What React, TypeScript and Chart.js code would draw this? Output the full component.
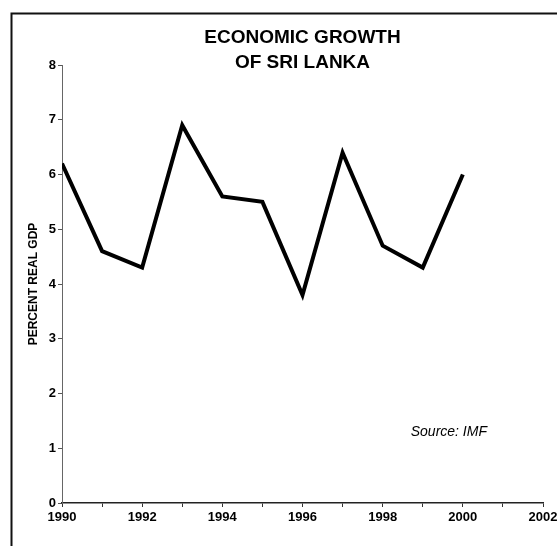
import React, { useEffect, useRef } from "react";
import { Chart, registerables } from "chart.js";

Chart.register(...registerables);

// Real GDP growth, percent per year
const years = [1990, 1991, 1992, 1993, 1994, 1995, 1996, 1997, 1998, 1999, 2000];
const growth = [6.2, 4.6, 4.3, 6.9, 5.6, 5.5, 3.8, 6.4, 4.7, 4.3, 6.0];

const titleLines = ["ECONOMIC GROWTH", "OF SRI LANKA"];
const yAxisTitle = "PERCENT REAL GDP";
const sourceNote = "Source: IMF";
const xRange = [1990, 2002];
const yRange = [0, 8];

const FONT = "'Liberation Sans', Arial, Helvetica, sans-serif";

const decorPlugin = {
  id: "decor",
  beforeDraw(chart: any) {
    const { ctx, width, height } = chart;
    ctx.save();
    ctx.fillStyle = "#ffffff";
    ctx.fillRect(0, 0, width, height);
    // frame lines along the top and left edges
    ctx.strokeStyle = "#111";
    ctx.lineWidth = 2;
    ctx.beginPath();
    ctx.moveTo(11.5, height);
    ctx.lineTo(11.5, 13.5);
    ctx.lineTo(width, 13.5);
    ctx.stroke();
    ctx.restore();
  },
  afterDraw(chart: any) {
    const { ctx, chartArea, scales } = chart;
    ctx.save();
    ctx.fillStyle = "#000";
    ctx.textAlign = "center";
    ctx.textBaseline = "alphabetic";
    ctx.font = `bold 19px ${FONT}`;
    const cx = (chartArea.left + chartArea.right) / 2;
    titleLines.forEach((line, i) => {
      ctx.fillText(line, cx, 43 + i * 25);
    });
    ctx.font = `italic 14px ${FONT}`;
    ctx.textAlign = "left";
    ctx.textBaseline = "middle";
    ctx.fillText(sourceNote, scales.x.getPixelForValue(1998.7), scales.y.getPixelForValue(1.3));
    ctx.restore();
  },
};

export default function App() {
  const ref = useRef<HTMLCanvasElement | null>(null);

  useEffect(() => {
    if (!ref.current) return;
    const chart = new Chart(ref.current, {
      type: "line",
      data: {
        datasets: [
          {
            data: years.map((y, i) => ({ x: y, y: growth[i] })),
            borderColor: "#000",
            borderWidth: 4,
            borderJoinStyle: "miter",
            pointRadius: 0,
            tension: 0,
            fill: false,
          },
        ],
      },
      options: {
        animation: false,
        responsive: false,
        devicePixelRatio: 1,
        layout: { padding: { left: 20, right: 14, top: 65, bottom: 18 } },
        plugins: {
          legend: { display: false },
          title: { display: false },
          tooltip: { enabled: false },
        },
        scales: {
          x: {
            type: "linear",
            min: xRange[0],
            max: xRange[1],
            afterFit: (s: any) => {
              s.height = 25;
              // let the last year label run to the canvas edge
              s.paddingLeft = 0;
              s.paddingRight = 0;
            },
            border: { display: true, color: "#222", width: 1.5 },
            grid: { drawOnChartArea: false, drawTicks: true, tickLength: 4, tickColor: "#333" },
            ticks: {
              stepSize: 1,
              autoSkip: false,
              maxRotation: 0,
              padding: 3,
              color: "#000",
              font: { family: FONT, size: 13, weight: "bold" },
              callback: (v: any) => (Number(v) % 2 === 0 ? String(v) : ""),
            },
          },
          y: {
            min: yRange[0],
            max: yRange[1],
            afterFit: (s: any) => {
              s.width = 42;
            },
            border: { display: true, color: "#666", width: 1 },
            grid: { drawOnChartArea: false, drawTicks: true, tickLength: 4, tickColor: "#555" },
            ticks: {
              stepSize: 1,
              padding: 2,
              color: "#000",
              font: { family: FONT, size: 13, weight: "bold" },
            },
            title: {
              display: true,
              text: yAxisTitle,
              color: "#000",
              padding: { top: 6, bottom: 0 },
              font: { family: FONT, size: 12, weight: "bold" },
            },
          },
        },
      },
      plugins: [decorPlugin],
    } as any);
    return () => chart.destroy();
  }, []);

  return (
    <div style={{ position: "fixed", left: 0, top: 0, width: 557, height: 546 }}>
      <canvas ref={ref} width={557} height={546} style={{ display: "block" }} />
    </div>
  );
}
